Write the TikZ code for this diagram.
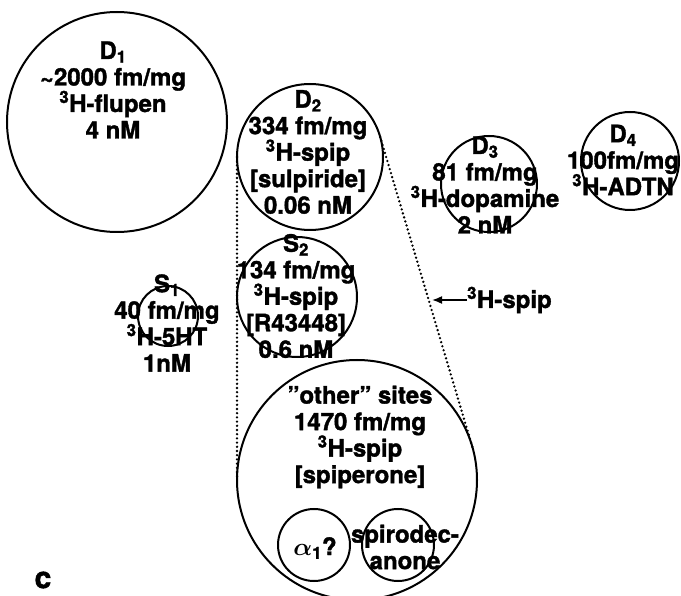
\documentclass[tikz,border=0pt]{standalone}
\usepackage{fontspec}
\setmainfont{TeX Gyre Heros}[BoldFeatures={FakeBold=1.5}]
\usetikzlibrary{arrows.meta}
\begin{document}
\begin{tikzpicture}[x=1pt,y=-1pt,
  site/.style={circle,draw,line width=2pt,inner sep=0pt,outer sep=0pt,minimum size=#1},
  lbl/.style={align=center,inner sep=0pt,font=\fontsize{24}{26.5}\selectfont\bfseries},
  zoomline/.style={line width=2.6pt,line cap=round,dash pattern=on 0pt off 4.2pt},
]
\useasboundingbox[fill=white] (0,0) rectangle (681,596);

% binding-site circles
\node[site=220pt] (D1) at (117,122) {};
\node[site=146pt] (D2) at (310,157) {};
\node[site=96pt]  (D3) at (489,184) {};
\node[site=98pt]  (D4) at (630,161) {};
\node[site=60pt]  (S1) at (168,316) {};
\node[site=120pt] (S2) at (297,297) {};
\node[site=240pt] (other) at (357,480) {};
\node[site=72pt]  (alpha) at (314,545) {};
\node[site=72pt]  (spiro) at (398,545) {};

% labels
\node[lbl] (D1t) at (113,90) {D\textsubscript{1}\\\textasciitilde2000 fm/mg\\\textsuperscript{3}H-flupen\\4 nM};
\node[lbl] (D2t) at (308,152) {D\textsubscript{2}\\334 fm/mg\\\textsuperscript{3}H-spip\\{[sulpiride]}\\0.06 nM};
\node[lbl] (D3t) at (485,185) {D\textsubscript{3}\\81 fm/mg\\\textsuperscript{3}H-dopamine\\2 nM};
\node[lbl] (D4t) at (623,160) {D\textsubscript{4}\\100fm/mg\\\textsuperscript{3}H-ADTN};
\node[lbl] (S1t) at (167,323) {S\textsubscript{1}\\40 fm/mg\\\textsuperscript{3}H-5HT\\1nM};
\node[lbl] (S2t) at (296,296) {S\textsubscript{2}\\134 fm/mg\\\textsuperscript{3}H-spip\\{[R43448]}\\0.6 nM};
\node[lbl] (othert) at (360,437) {"other" sites\\1470 fm/mg\\\textsuperscript{3}H-spip\\{[spiperone]}};
\node[lbl] (alphat) at (315,548) {{\boldmath$\alpha$}\textsubscript{1}?};
\node[lbl] (spirot) at (405,547) {spirodec-\\anone};

% magnification cone from D2 to the "other" sites
\draw[zoomline] (D2.180) -- (other.180);
\draw[zoomline] (D2.16.4) -- (other.16.4);

% radioligand arrow
\node[lbl,anchor=west] (spip) at (467,300) {\textsuperscript{3}H-spip};
\coordinate (tip) at (432,300);
\draw[line width=1.6pt,-{Latex[length=10pt,width=8pt]}] (spip.west) -- (tip);

% panel letter
\node[font=\fontsize{30}{32}\selectfont\bfseries,inner sep=0pt] (panel) at (43,580) {c};
\end{tikzpicture}
\end{document}
